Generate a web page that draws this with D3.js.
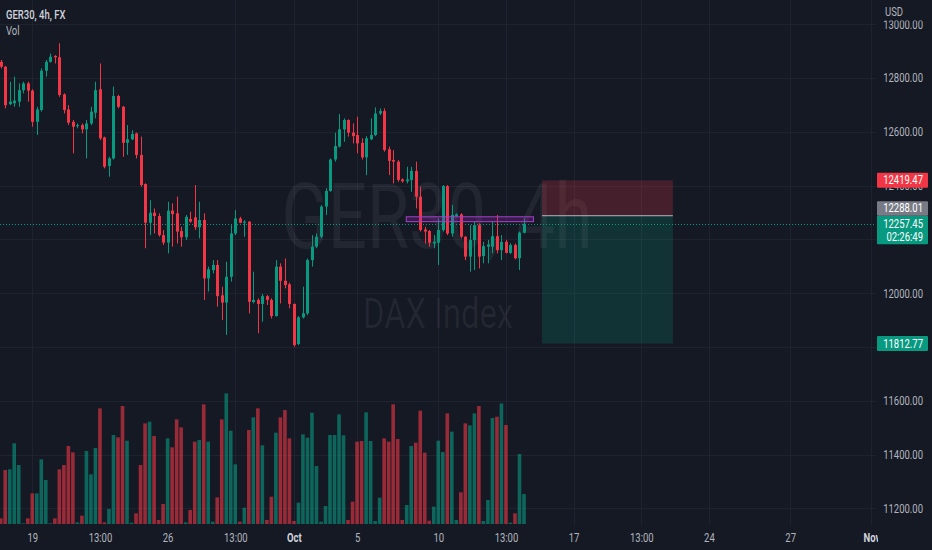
<!DOCTYPE html>
<html><head><meta charset="utf-8">
<script src="https://cdn.jsdelivr.net/npm/d3@7"></script>
<style>body{margin:0;background:#151924;}svg{display:block}</style>
</head><body>
<svg id="c" width="932" height="550"></svg>
<script>
// ---- DATA (GER30, 4h) ----
const opens = [12860,12842,12703,12706,12712,12755,12780,12753,12637,12681,12827,12860,12882,12877,12739,12683,12637,12621,12625,12609,12631,12671,12758,12579,12473,12501,12733,12693,12559,12572,12594,12514,12406,12262,12299,12287,12216,12188,12307,12297,12231,12208,12276,12282,12245,12272,12055,12086,12105,11992,11965,12061,12222,12278,12262,12266,11967,11975,11960,11989,11975,11915,12099,12046,12033,11960,11811,11910,11925,12123,12173,12210,12322,12380,12497,12545,12609,12644,12597,12588,12559,12505,12572,12588,12668,12677,12535,12495,12489,12423,12416,12421,12454,12359,12237,12231,12185,12188,12235,12398,12222,12287,12293,12210,12136,12198,12253,12138,12173,12173,12212,12160,12191,12150,12179,12130,12225];
const highs = [12867,12844,12786,12805,12780,12786,12786,12758,12693,12836,12867,12891,12885,12929,12743,12699,12644,12631,12631,12644,12693,12786,12854,12582,12507,12768,12737,12696,12625,12606,12597,12582,12408,12346,12315,12297,12235,12340,12334,12359,12247,12291,12303,12402,12340,12297,12099,12123,12123,12024,12117,12253,12309,12284,12272,12268,12080,11981,11997,11993,11981,12123,12111,12129,12039,11962,11915,12024,12129,12216,12222,12328,12390,12501,12597,12666,12650,12646,12631,12656,12576,12584,12650,12691,12687,12687,12545,12532,12495,12427,12470,12470,12489,12396,12247,12235,12216,12278,12402,12402,12328,12297,12297,12212,12253,12266,12260,12191,12198,12266,12291,12216,12198,12185,12185,12229,12278];
const lows = [12836,12687,12699,12693,12693,12743,12712,12619,12588,12675,12805,12857,12854,12730,12668,12625,12520,12613,12594,12501,12625,12650,12569,12464,12433,12497,12687,12507,12514,12569,12501,12396,12167,12216,12222,12210,12179,12148,12173,12185,12173,12198,12262,12235,12204,11975,12006,12074,11950,11900,11845,12043,12216,12260,12210,11925,11962,11851,11894,11956,11906,11913,11962,12018,11944,11801,11807,11906,11919,12099,12167,12204,12291,12377,12489,12542,12563,12582,12557,12520,12497,12439,12569,12584,12662,12526,12439,12408,12414,12411,12408,12377,12315,12229,12185,12173,12167,12105,12229,12216,12210,12284,12204,12123,12080,12086,12092,12111,12111,12148,12148,12123,12148,12146,12126,12086,12222];
const closes = [12842,12699,12712,12716,12755,12780,12753,12637,12683,12827,12860,12879,12877,12737,12681,12634,12619,12625,12609,12631,12675,12755,12576,12470,12501,12733,12693,12559,12572,12592,12514,12402,12262,12299,12287,12216,12188,12307,12294,12229,12208,12284,12266,12245,12272,12055,12089,12105,11989,11965,12061,12222,12278,12262,12266,11968,11975,11960,11989,11975,11915,12099,12046,12030,11960,11807,11910,11925,12123,12173,12210,12322,12380,12497,12547,12609,12644,12597,12584,12557,12505,12576,12588,12668,12677,12532,12492,12489,12421,12416,12423,12455,12359,12235,12229,12188,12191,12235,12398,12222,12291,12293,12210,12136,12198,12253,12136,12175,12181,12212,12160,12191,12150,12179,12130,12225,12257.45];
const volumes = [17,162,164,242,177,2,17,92,92,194,132,2,17,164,177,234,215,5,25,219,149,228,347,5,45,267,260,354,250,4,32,177,302,307,264,12,60,257,230,314,290,5,42,247,252,359,247,7,80,314,392,280,179,7,49,282,320,347,236,12,82,274,320,342,257,9,64,269,259,334,174,7,54,267,267,329,266,12,67,247,249,335,249,9,79,257,247,359,255,12,57,234,244,340,214,10,52,250,216,332,277,12,95,302,296,332,354,9,72,318,322,362,297,4,32,210,90];
const priceTicks = [13000,12800,12600,12400,12200,12000,11800,11600,11400,11200];
const hiddenPriceLabels = [12200,11800];   // covered by the price boxes
const timeTicks = [7,22,37,52,65,79,97,112,127,142,157,175,193];
const timeLabels = ["19","13:00","26","13:00","Oct","5","10","13:00","17","13:00","24","27","Nov"];
const gridTimeTicks = [7,52,65,79,97,112,127,142,157,175,193];
const boldLabels = ["Oct","Nov"];
// short position tool
const stopPrice = 12419.47, entryPrice = 12288.01, targetPrice = 11812.77;
const positionSpan = [120, 149];
// purple zone
const zoneTop = 12284, zoneBottom = 12266, zoneSpan = [89.9, 118.1];
const lastPrice = 12257.45, countdown = "02:26:49";

// ---- DRAW ----
const W = 932, H = 550, paneR = 876, paneB = 525;
const BG = '#151924', UP = '#089981', DOWN = '#f23645', GRID = '#1f2330', TXT = '#b2b5be';
const SX = 0.76, FONT = "Roboto, 'Noto Sans', sans-serif";
const svg = d3.select('#c').style('font-family', FONT);
svg.append('rect').attr('width', W).attr('height', H).attr('fill', BG);

const x = d3.scaleLinear().domain([0, 116]).range([0.7, 524]);
const y = d3.scaleLinear().domain([11200, 12800]).range([508.4, 78]);
const yv = d3.scaleLinear().domain([0, 400]).range([524, 390.7]);
const data = opens.map((o, i) => ({i, o, h: highs[i], l: lows[i], c: closes[i], v: volumes[i], up: closes[i] >= o}));

svg.append('defs').append('clipPath').attr('id', 'pane')
  .append('rect').attr('width', paneR).attr('height', paneB);
const pane = svg.append('g').attr('clip-path', 'url(#pane)');

// grid
pane.append('g').selectAll('line').data(priceTicks).join('line')
  .attr('x1', 0).attr('x2', paneR).attr('y1', d => Math.round(y(d)) + 0.5).attr('y2', d => Math.round(y(d)) + 0.5)
  .attr('stroke', GRID);
pane.append('g').selectAll('line').data(gridTimeTicks).join('line')
  .attr('y1', 0).attr('y2', paneB).attr('x1', d => Math.round(x(d)) + 0.5).attr('x2', d => Math.round(x(d)) + 0.5)
  .attr('stroke', GRID);

function stext(g, tx, ty, str, size, fill, anchor, weight) {
  return g.append('text').attr('transform', `translate(${tx},${ty}) scale(${SX},1)`)
    .attr('text-anchor', anchor || 'start').attr('font-size', size).attr('fill', fill)
    .attr('font-weight', weight || 400).attr('dominant-baseline', 'central').text(str);
}
// watermark
stext(pane, 437, 218, 'GER30, 4h', 90, 'rgba(255,255,255,0.06)', 'middle');
stext(pane, 438, 313, 'DAX Index', 43, 'rgba(255,255,255,0.06)', 'middle');

// volume
pane.append('g').selectAll('rect').data(data).join('rect')
  .attr('x', d => x(d.i) - 1.8).attr('width', 3.6)
  .attr('y', d => yv(d.v)).attr('height', d => yv(0) - yv(d.v))
  .attr('fill', d => d.up ? UP : DOWN).attr('fill-opacity', 0.6);

// position tool
const px0 = x(positionSpan[0]), px1 = x(positionSpan[1]);
pane.append('rect').attr('x', px0).attr('width', px1 - px0)
  .attr('y', y(stopPrice)).attr('height', y(entryPrice) - y(stopPrice))
  .attr('fill', DOWN).attr('fill-opacity', 0.22);
pane.append('rect').attr('x', px0).attr('width', px1 - px0)
  .attr('y', y(entryPrice)).attr('height', y(targetPrice) - y(entryPrice))
  .attr('fill', UP).attr('fill-opacity', 0.2);
pane.append('line').attr('x1', px0).attr('x2', px1)
  .attr('y1', y(entryPrice)).attr('y2', y(entryPrice)).attr('stroke', '#b2b5be').attr('stroke-width', 1);

// current price dotted line
pane.append('line').attr('x1', 0).attr('x2', paneR)
  .attr('y1', Math.round(y(lastPrice)) + 0.5).attr('y2', Math.round(y(lastPrice)) + 0.5)
  .attr('stroke', UP).attr('stroke-dasharray', '1,2');

// candles
const cg = pane.append('g');
cg.selectAll('line').data(data).join('line')
  .attr('x1', d => Math.round(x(d.i)) + 0.5).attr('x2', d => Math.round(x(d.i)) + 0.5)
  .attr('y1', d => y(d.h)).attr('y2', d => y(d.l))
  .attr('stroke', d => d.up ? UP : DOWN).attr('stroke-width', 1);
cg.selectAll('rect').data(data).join('rect')
  .attr('x', d => Math.round(x(d.i)) - 1).attr('width', 3)
  .attr('y', d => y(Math.max(d.o, d.c)))
  .attr('height', d => Math.max(1, Math.abs(y(d.o) - y(d.c))))
  .attr('fill', d => d.up ? UP : DOWN);

// purple zone
const zx0 = x(zoneSpan[0]), zx1 = x(zoneSpan[1]);
pane.append('rect').attr('x', zx0).attr('width', zx1 - zx0)
  .attr('y', y(zoneTop)).attr('height', y(zoneBottom) - y(zoneTop))
  .attr('fill', '#9c27b0').attr('fill-opacity', 0.25)
  .attr('stroke', '#a43fd0').attr('stroke-width', 1);

// legend
stext(svg, 6, 15, 'GER30, 4h, FX', 12.5, '#d1d4dc', 'start', 500);
stext(svg, 6, 31, 'Vol', 12.5, TXT);

// price axis
const pAxis = svg.append('g').attr('transform', `translate(${paneR},0)`)
  .call(d3.axisRight(y).tickValues(priceTicks.filter(p => !hiddenPriceLabels.includes(p)))
    .tickFormat(d3.format('.2f')).tickSize(0));
pAxis.select('.domain').remove();
pAxis.selectAll('text').attr('x', 0).attr('dy', null).attr('text-anchor', 'end')
  .attr('dominant-baseline', 'central').attr('transform', `translate(47,0) scale(${SX},1)`)
  .attr('fill', TXT).attr('font-size', 12.5).attr('font-family', FONT);
svg.append('rect').attr('x', paneR).attr('y', 0).attr('width', W - paneR).attr('height', 20.5).attr('fill', BG);
stext(svg, 885, 12.5, 'USD', 12.5, TXT);

// price labels
function plabel(top, h, fill, lines, color) {
  svg.append('rect').attr('x', 877).attr('y', top).attr('width', 51).attr('height', h).attr('fill', fill).attr('rx', 1);
  lines.forEach(([t, cy]) => stext(svg, 923, cy, t, 12.5, color || '#ffffff', 'end'));
}
const yl = y(lastPrice);
plabel(y(stopPrice) - 7.5, 15, DOWN, [[stopPrice.toFixed(2), y(stopPrice)]]);
plabel(yl - 8.3, 28.5, UP, [[lastPrice.toFixed(2), yl], [countdown, yl + 13]]);
plabel(yl - 8.3 - 14.5, 14.5, '#787b86', [[entryPrice.toFixed(2), yl - 8.3 - 7.2]]);
plabel(y(targetPrice) - 7.5, 15, UP, [[targetPrice.toFixed(2), y(targetPrice)]]);

// time axis
svg.append('defs').append('clipPath').attr('id', 'taxis')
  .append('rect').attr('width', 878).attr('height', H);
const tAxis = svg.append('g').attr('clip-path', 'url(#taxis)').append('g').attr('transform', 'translate(0,538)')
  .call(d3.axisBottom(x).tickValues(timeTicks).tickFormat((d, i) => timeLabels[i]).tickSize(0));
tAxis.select('.domain').remove();
tAxis.selectAll('text').attr('y', 0).attr('dy', null).attr('dominant-baseline', 'central')
  .attr('transform', `scale(${SX},1)`).attr('font-size', 12.5).attr('font-family', FONT)
  .attr('fill', d => boldLabels.includes(timeLabels[timeTicks.indexOf(d)]) ? '#d1d4dc' : TXT)
  .attr('font-weight', d => boldLabels.includes(timeLabels[timeTicks.indexOf(d)]) ? 700 : 400);
</script>
</body></html>
